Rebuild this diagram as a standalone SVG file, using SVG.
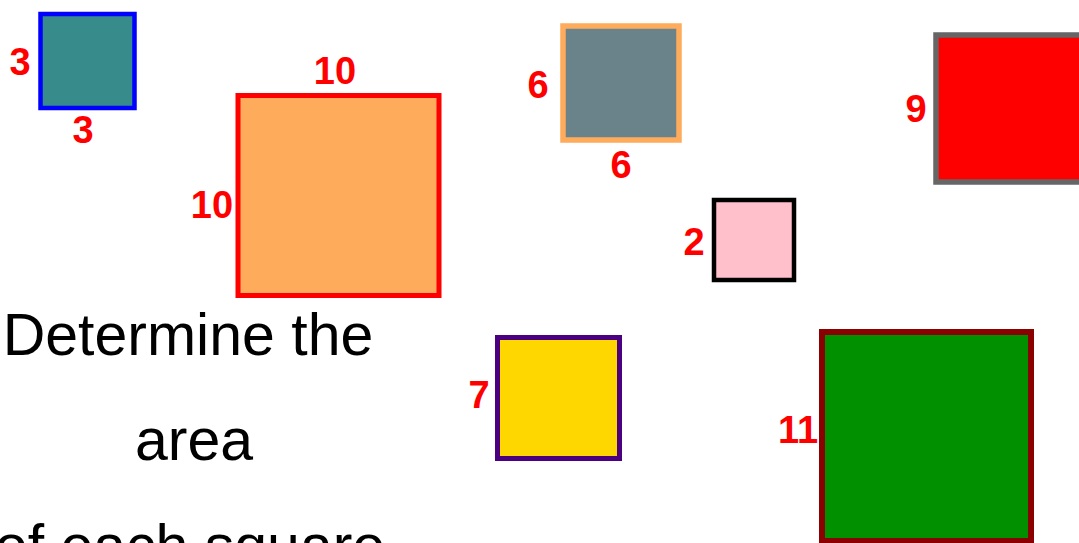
<svg xmlns="http://www.w3.org/2000/svg" width="1079" height="543" viewBox="0 0 1079 543">
<style>
.lbl{font-family:"Liberation Sans",Arial,sans-serif;font-weight:bold;font-size:38px;fill:#ff0000;text-anchor:middle}
.txt{font-family:"Liberation Sans",Arial,sans-serif;font-size:59px;fill:#000000;text-anchor:middle}
</style>
<rect width="1079" height="543" fill="#ffffff"/>
<g id="sq3">
<rect x="40.5" y="14" width="94" height="94" fill="#378b8b" stroke="#0000ff" stroke-width="4.5"/>
<text class="lbl" x="20" y="75">3</text>
<text class="lbl" x="83" y="143">3</text>
</g>
<g id="sq10">
<rect x="238" y="95.5" width="201" height="200" fill="#ffab5c" stroke="#ff0000" stroke-width="5"/>
<text class="lbl" x="335" y="84">10</text>
<text class="lbl" x="212" y="218">10</text>
</g>
<g id="sq6">
<rect x="563" y="26" width="116" height="114" fill="#6a838a" stroke="#ffab5c" stroke-width="5.5"/>
<text class="lbl" x="538" y="98">6</text>
<text class="lbl" x="621" y="178">6</text>
</g>
<g id="sq9">
<rect x="936" y="35" width="150" height="147" fill="#ff0000" stroke="#666666" stroke-width="5.5"/>
<text class="lbl" x="916" y="122">9</text>
</g>
<g id="sq2">
<rect x="714" y="200" width="80" height="80" fill="#ffc0cb" stroke="#000000" stroke-width="4.5"/>
<text class="lbl" x="694" y="255">2</text>
</g>
<g id="sq7">
<rect x="497.5" y="337.5" width="122" height="121" fill="#ffd700" stroke="#4b0082" stroke-width="5"/>
<text class="lbl" x="479" y="408">7</text>
</g>
<g id="sq11">
<rect x="822" y="332" width="209" height="209" fill="#009000" stroke="#8b0000" stroke-width="6"/>
<text class="lbl" x="798" y="443">11</text>
</g>
<g id="caption">
<text class="txt" x="188" y="355">Determine the</text>
<text class="txt" x="194" y="460">area</text>
<text class="txt" x="190" y="566">of each square</text>
</g>
<g id="connectors"></g>
</svg>
